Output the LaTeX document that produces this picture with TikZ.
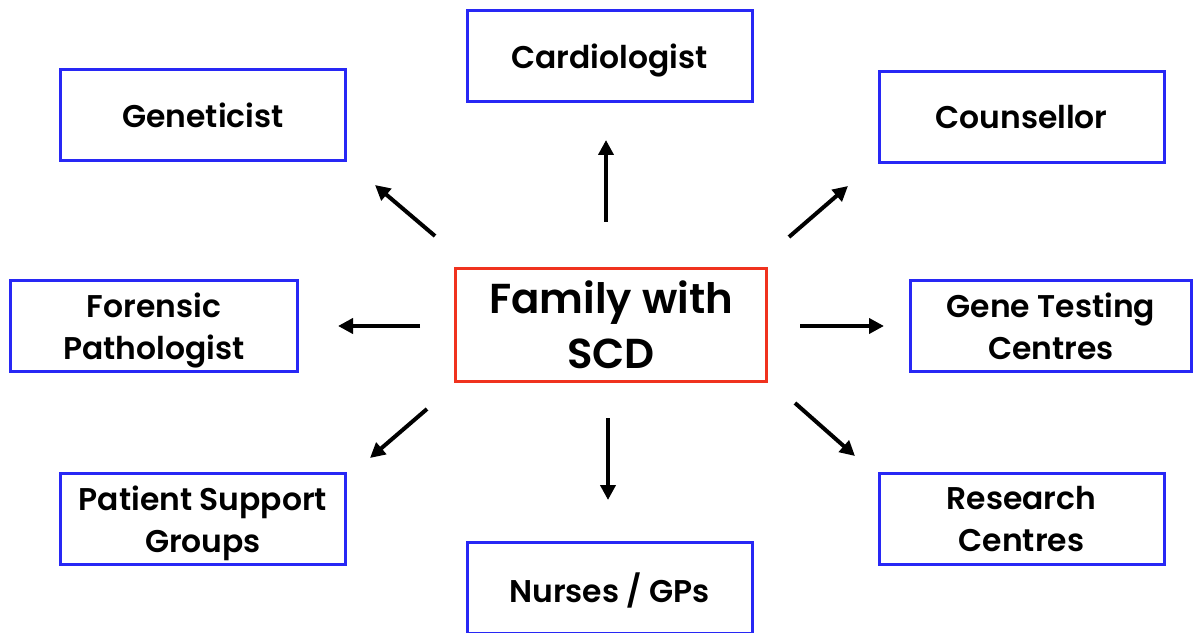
\documentclass[tikz,border=0pt]{standalone}
\usepackage{fontspec}
\setmainfont{Poppins}[BoldFont={Poppins SemiBold}]
\usetikzlibrary{arrows.meta}
\definecolor{boxblue}{RGB}{40,40,245}
\definecolor{boxred}{RGB}{240,50,30}
\tikzset{
  rolebox/.style={draw=boxblue, line width=3bp, minimum width=285bp, minimum height=91bp, font=\fontsize{31.5}{42}\selectfont\bfseries, align=center, inner sep=0pt, text depth=0pt},
  centerbox/.style={draw=boxred, line width=3bp, minimum width=311bp, minimum height=113bp, font=\fontsize{42}{55}\selectfont\bfseries, align=center, inner sep=0pt},
  link/.style={line width=4bp, -{Triangle[length=15bp,width=15bp]}}
}
\begin{document}
\begin{tikzpicture}[x=1bp,y=-1bp]
\useasboundingbox (0,0) rectangle (1194,633);
\node[centerbox] (fam) at (611,325) {Family with\\SCD};
\node[rolebox] (card) at (609.5,56) {Cardiologist};
\node[rolebox] (gen) at (203,115) {Geneticist};
\node[rolebox] (coun) at (1021.5,117) {Counsellor};
\node[rolebox, minimum width=287bp] (for) at (154,326) {Forensic\\Pathologist};
\node[rolebox, minimum width=281bp] (gtc) at (1051,326) {Gene Testing\\Centres};
\node[rolebox] (psg) at (203,519) {Patient Support\\Groups};
\node[rolebox] (nur) at (609.5,588) {Nurses / GPs};
\node[rolebox] (res) at (1021.5,519) {Research\\Centres};
\coordinate (upS) at (606,222); \coordinate (upE) at (606,140);
\coordinate (nwS) at (435,236); \coordinate (nwE) at (375,185);
\coordinate (neS) at (789,237); \coordinate (neE) at (848,186);
\coordinate (lS) at (420,326); \coordinate (lE) at (338,326);
\coordinate (rS) at (800,326); \coordinate (rE) at (884,326);
\coordinate (swS) at (427,409); \coordinate (swE) at (370,458);
\coordinate (dS) at (608,418); \coordinate (dE) at (608,500);
\coordinate (seS) at (795,403); \coordinate (seE) at (855,456);
\draw[link] (upS) -- (upE);
\draw[link] (nwS) -- (nwE);
\draw[link] (neS) -- (neE);
\draw[link] (lS) -- (lE);
\draw[link] (rS) -- (rE);
\draw[link] (swS) -- (swE);
\draw[link] (dS) -- (dE);
\draw[link] (seS) -- (seE);
\end{tikzpicture}
\end{document}
